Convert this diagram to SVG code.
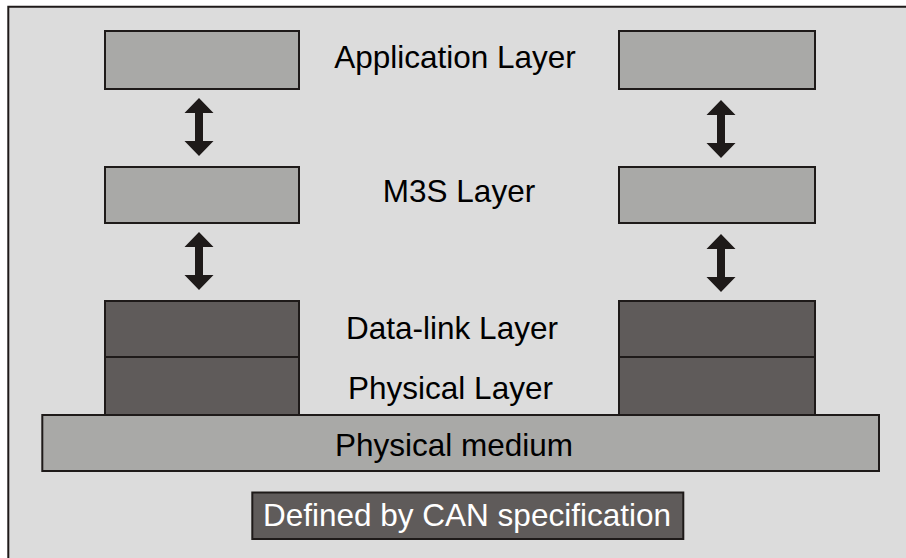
<svg xmlns="http://www.w3.org/2000/svg" width="906" height="558" viewBox="0 0 906 558">
<style>
.box{fill:#a9a9a7;stroke:#1e1a19;stroke-width:2}
.dark{fill:#5f5b5a;stroke:#1e1a19;stroke-width:2}
.lbl{font-family:"Liberation Sans",Arial,sans-serif;font-size:31.5px;fill:#000;text-anchor:middle}
.arr{fill:#1e1a19}
</style>
<defs>
<path id="dbl" d="M0,0 L14.5,15 L4,15 L4,43 L14.5,43 L0,58 L-14.5,43 L-4,43 L-4,15 L-14.5,15 Z"/>
</defs>
<rect x="0" y="0" width="906" height="558" fill="#ffffff"/>
<g id="frame">
<rect x="8.3" y="6.7" width="900" height="560" fill="#dcdcdc"/>
<path d="M8.3,558 L8.3,6.7 L906,6.7" fill="none" stroke="#1e1a19" stroke-width="2"/>
</g>
<g id="app-left"><rect class="box" x="105" y="31" width="194" height="58"/></g>
<g id="app-right"><rect class="box" x="619" y="31" width="196" height="58"/></g>
<g id="app-label"><text class="lbl" x="455" y="68">Application Layer</text></g>
<g id="m3s-left"><rect class="box" x="105" y="167" width="194" height="56"/></g>
<g id="m3s-right"><rect class="box" x="619" y="167" width="196" height="56"/></g>
<g id="m3s-label"><text class="lbl" x="459" y="202">M3S Layer</text></g>
<g id="dl-left"><rect class="dark" x="105" y="301" width="194" height="56"/></g>
<g id="dl-right"><rect class="dark" x="619" y="301" width="196" height="56"/></g>
<g id="dl-label"><text class="lbl" x="452" y="339">Data-link Layer</text></g>
<g id="phy-left"><rect class="dark" x="105" y="357" width="194" height="58"/></g>
<g id="phy-right"><rect class="dark" x="619" y="357" width="196" height="58"/></g>
<g id="phy-label"><text class="lbl" x="450.5" y="398.5">Physical Layer</text></g>
<g id="medium"><rect class="box" x="42.3" y="415" width="836.7" height="56"/><text class="lbl" x="454" y="456">Physical medium</text></g>
<g id="legend"><rect class="dark" x="252.3" y="492.5" width="431" height="46.5"/><text class="lbl" x="467" y="526" style="fill:#ffffff">Defined by CAN specification</text></g>
<g id="connectors">
<use href="#dbl" class="arr" x="199" y="98"/>
<use href="#dbl" class="arr" x="199" y="232"/>
<use href="#dbl" class="arr" x="721" y="100"/>
<use href="#dbl" class="arr" x="721" y="234"/>
</g>
</svg>
